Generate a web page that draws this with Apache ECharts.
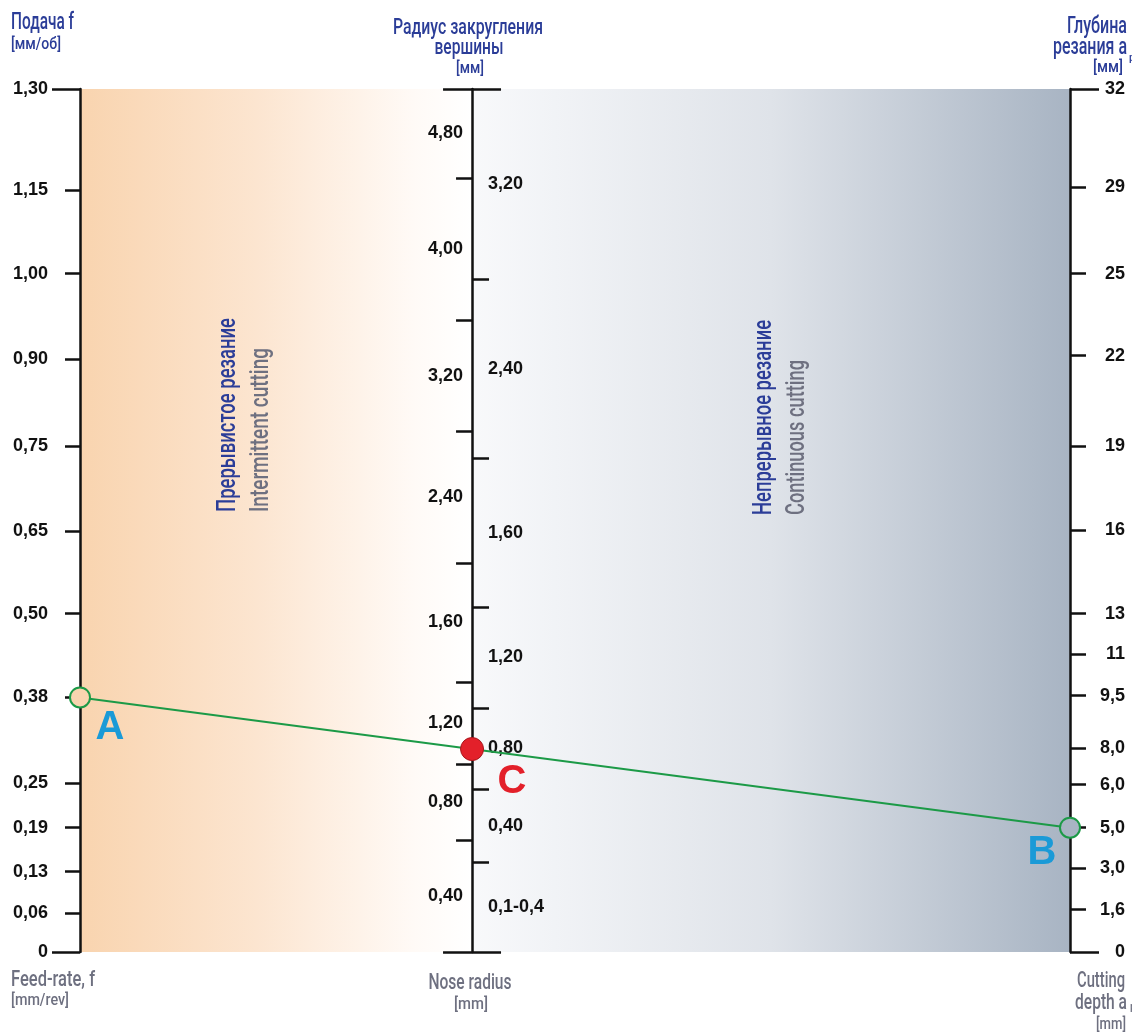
<!DOCTYPE html>
<html>
<head>
<meta charset="utf-8">
<script src="https://cdn.jsdelivr.net/npm/echarts@6/dist/echarts.min.js"></script>
<style>
  html, body { margin: 0; padding: 0; background: #fff; }
  #chart { width: 1132px; height: 1033px; }
</style>
</head>
<body>
<div id="chart"></div>
<script>
// положения делений — в % длины шкалы, снизу вверх
const feedLabels = ['0', '0,06', '0,13', '0,19', '0,25', '0,38', '0,50', '0,65', '0,75', '0,90', '1,00', '1,15', '1,30'];
const feedPos    = [0, 4.5, 9.3, 14.4, 19.6, 29.5, 39.2, 48.8, 58.6, 68.7, 78.6, 88.3, 100];

// радиус при вершине: две стороны средней шкалы, границы зон
const noseLeftLabels  = ['0,40', '0,80', '1,20', '1,60', '2,40', '3,20', '4,00', '4,80'];
const noseLeftBounds  = [0, 12.9, 21.8, 31.3, 45.1, 60.3, 73.2, 89.7, 100];
const noseRightLabels = ['0,1-0,4', '0,40', '0,80', '1,20', '1,60', '2,40', '3,20'];
const noseRightBounds = [0, 10.4, 18.9, 28.3, 40.0, 57.2, 78.0, 100];

const depthLabels = ['0', '1,6', '3,0', '5,0', '6,0', '8,0', '9,5', '11', '13', '16', '19', '22', '25', '29', '32'];
const depthPos    = [0, 4.9, 9.7, 14.4, 19.4, 23.6, 29.7, 34.5, 39.2, 48.9, 58.6, 69.1, 78.6, 88.6, 100];

// пример: подача A и глубина B
const pointA = '0,38';
const pointB = '5,0';

const NOSE_X = 0.396;          // где стоит средняя шкала (доля ширины)
const GRID_W = 1132 - 80 - 62;
const INK = '#111';
const BLUE = '#2b3d98';
const GRAY = '#6e7080';
const GREEN = '#1c9a47';
const PEACH = '#f9d4af';
const SLATE = '#a8b4c3';

const posA = feedPos[feedLabels.indexOf(pointA)];
const posB = depthPos[depthLabels.indexOf(pointB)];
const posC = posA + (posB - posA) * NOSE_X;

const mids = b => b.slice(1).map((v, i) => (v + b[i]) / 2);
const noseLeftMid = mids(noseLeftBounds);
const noseRightMid = mids(noseRightBounds);

const tickFont = { fontSize: 18, fontWeight: 'bold', color: INK, fontFamily: 'Liberation Sans, Arial, sans-serif' };
const lineSt = { color: INK, width: 2.5 };

function yAx(opt) {
    return Object.assign({
        type: 'value', min: 0, max: 100, position: 'left', offset: 0, z: 2,
        splitLine: { show: false },
        axisLine: { show: false, onZero: false, lineStyle: lineSt },
        axisTick: { show: false },
        axisLabel: { show: false }
    }, opt);
}
function ticks(vals, len) {
    return { show: true, length: len, customValues: vals, lineStyle: lineSt };
}
function labels(vals, names, margin, extra) {
    return Object.assign({
        show: true, customValues: vals, margin: margin, hideOverlap: false,
        formatter: v => names[vals.indexOf(v)]
    }, tickFont, extra || {});
}

// подгонка ширины узкого шрифта
const ctx = document.createElement('canvas').getContext('2d');
function txt(text, x, y, size, w, color, align, rot) {
    ctx.font = '500 ' + size + 'px Roboto';
    return {
        type: 'text', x: x, y: y, rotation: rot || 0, silent: true, z: 100,
        scaleX: w / ctx.measureText(text).width,
        style: { text: text, x: 0, y: 0, fontSize: size, fontWeight: 500, fontFamily: 'Roboto', fill: color, align: align, verticalAlign: 'middle' }
    };
}

const chart = echarts.init(document.getElementById('chart'));
chart.setOption({
    animation: false,
    backgroundColor: '#fff',
    grid: { left: 80, right: 62, top: 89, bottom: 81, containLabel: false, outerBoundsMode: 'none' },
    xAxis: { type: 'value', min: 0, max: 1, show: false, axisLine: { onZero: false } },
    yAxis: [
        // подача
        yAx({ axisLine: { show: true, onZero: false, lineStyle: lineSt },
              axisTick: ticks(feedPos.slice(1, -1), 15),
              axisLabel: labels(feedPos, feedLabels, 32) }),
        yAx({ axisTick: ticks([0, 100], 28) }),
        // радиус, левая сторона
        yAx({ offset: -NOSE_X * GRID_W,
              axisLine: { show: true, onZero: false, lineStyle: lineSt },
              axisTick: ticks(noseLeftBounds.slice(1, -1), 16),
              axisLabel: labels(noseLeftMid, noseLeftLabels, 9) }),
        yAx({ offset: -NOSE_X * GRID_W, axisTick: ticks([0, 100], 29) }),
        // радиус, правая сторона
        yAx({ position: 'right', offset: -(1 - NOSE_X) * GRID_W,
              axisTick: ticks(noseRightBounds.slice(1, -1), 17),
              axisLabel: labels(noseRightMid, noseRightLabels, 16) }),
        yAx({ position: 'right', offset: -(1 - NOSE_X) * GRID_W, axisTick: ticks([0, 100], 29) }),
        // глубина
        yAx({ position: 'right',
              axisLine: { show: true, onZero: false, lineStyle: lineSt },
              axisTick: ticks(depthPos.slice(1, -1), 16),
              axisLabel: labels(depthPos, depthLabels, 55, { align: 'right' }) }),
        yAx({ position: 'right', axisTick: ticks([0, 100], 29) })
    ],
    series: [
        {
            type: 'line', data: [], z: 1, silent: true,
            markArea: {
                silent: true,
                data: [
                    [{ xAxis: 0, yAxis: 0, itemStyle: { color: { type: 'linear', x: 0, y: 0, x2: 1, y2: 0,
                        colorStops: [{ offset: 0, color: PEACH }, { offset: 0.45, color: '#fce5d0' }, { offset: 0.85, color: '#fffaf6' }, { offset: 1, color: '#ffffff' }] } } },
                     { xAxis: NOSE_X, yAxis: 100 }],
                    [{ xAxis: NOSE_X, yAxis: 0, itemStyle: { color: { type: 'linear', x: 0, y: 0, x2: 1, y2: 0,
                        colorStops: [{ offset: 0, color: '#f8f9fb' }, { offset: 0.5, color: '#dfe3e9' }, { offset: 1, color: SLATE }] } } },
                     { xAxis: 1, yAxis: 100 }]
                ]
            }
        },
        {
            type: 'line', z: 5, symbol: 'none', silent: true,
            lineStyle: { color: GREEN, width: 2 },
            data: [[0, posA], [1, posB]]
        },
        {
            type: 'scatter', z: 6, symbolSize: 20, silent: true,
            itemStyle: { opacity: 1, borderColor: GREEN, borderWidth: 2 },
            label: { show: true, position: 'inside', formatter: p => p.value[2],
                     fontSize: 40, fontWeight: 'bold', color: '#1a9ad7', fontFamily: 'Liberation Sans, Arial, sans-serif' },
            data: [
                { value: [0, posA, 'A'], itemStyle: { color: PEACH }, label: { offset: [30, 31] } },
                { value: [1, posB, 'B'], itemStyle: { color: SLATE }, label: { offset: [-28, 25] } }
            ]
        },
        {
            type: 'scatter', z: 7, symbolSize: 23, silent: true,
            itemStyle: { opacity: 1, color: '#e3202a', borderColor: '#a8171d', borderWidth: 1 },
            label: { show: true, position: 'inside', offset: [40, 33], formatter: p => p.value[2],
                     fontSize: 40, fontWeight: 'bold', color: '#e3202a', fontFamily: 'Liberation Sans, Arial, sans-serif' },
            data: [[NOSE_X, posC, 'C']]
        }
    ],
    graphic: [
        txt('Подача f', 11, 23, 23, 63, BLUE, 'left'),
        txt('[мм/об]', 11, 45, 17, 50, BLUE, 'left'),
        txt('Радиус закругления', 468, 28, 22, 150, BLUE, 'center'),
        txt('вершины', 469, 48, 22, 69, BLUE, 'center'),
        txt('[мм]', 470, 69, 17, 28, BLUE, 'center'),
        txt('Глубина', 1127, 27, 23, 60, BLUE, 'right'),
        txt('резания a', 1127, 48, 23, 74, BLUE, 'right'),
        txt('p', 1129, 58, 11, 6, BLUE, 'left'),
        txt('[мм]', 1123, 68, 17, 30, BLUE, 'right'),

        txt('Прерывистое резание', 228, 512, 26, 194, BLUE, 'left', Math.PI / 2),
        txt('Intermittent cutting', 261, 512, 26, 164, GRAY, 'left', Math.PI / 2),
        txt('Непрерывное резание', 764, 515, 26, 195, BLUE, 'left', Math.PI / 2),
        txt('Continuous cutting', 797, 515, 26, 155, GRAY, 'left', Math.PI / 2),

        txt('Feed-rate, f', 11, 980, 22, 84, GRAY, 'left'),
        txt('[mm/rev]', 11, 1001, 17, 58, GRAY, 'left'),
        txt('Nose radius', 470, 983, 22, 83, GRAY, 'center'),
        txt('[mm]', 471, 1005, 17, 34, GRAY, 'center'),
        txt('Cutting', 1125, 981, 22, 48, GRAY, 'right'),
        txt('depth a', 1127, 1003, 22, 52, GRAY, 'right'),
        txt('p', 1130, 1007, 11, 6, GRAY, 'left'),
        txt('[mm]', 1126, 1025, 17, 30, GRAY, 'right')
    ]
});
</script>
</body>
</html>
